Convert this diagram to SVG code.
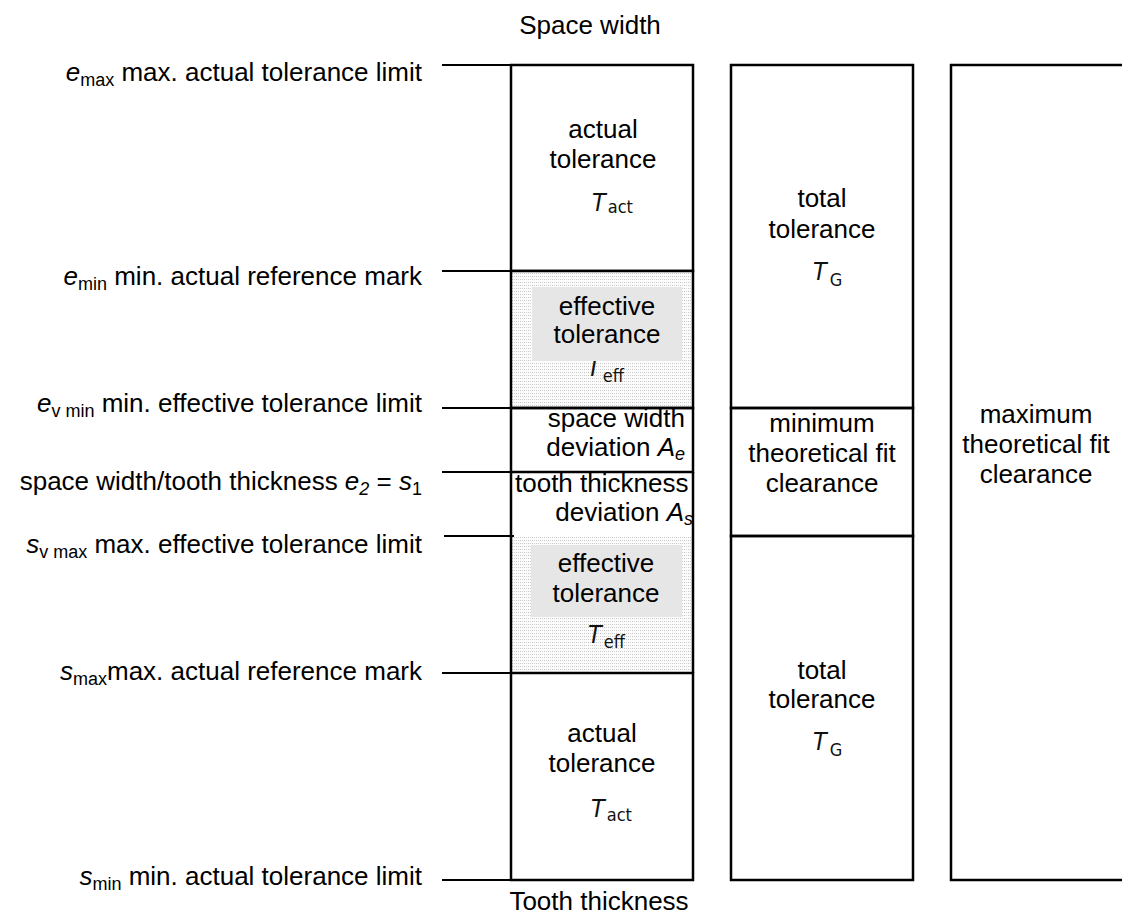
<svg xmlns="http://www.w3.org/2000/svg" width="1122" height="917" viewBox="0 0 1122 917">
<defs>
<pattern id="dots" width="4" height="3" patternUnits="userSpaceOnUse">
<rect width="4" height="3" fill="#fcfcfc"/>
<rect x="0" y="0" width="1" height="1" fill="#c4c4c4"/>
<rect x="2" y="0" width="1" height="1" fill="#d2d2d2"/>
</pattern>
<style>
text{font-family:"Liberation Sans",Arial,sans-serif;font-size:26px;fill:#000}
.c{text-anchor:middle}
.e{text-anchor:end}
.i{font-style:italic}
.sub{font-size:18px}
.sym{font-family:"Liberation Sans Narrow","DejaVu Sans Condensed","Liberation Sans",sans-serif;font-stretch:condensed;font-size:25px;fill:#111}
.symsub{font-size:18px;font-style:normal}
.box{fill:none;stroke:#000;stroke-width:2.5}
.div{stroke:#000;stroke-width:2.5}
.lead{stroke:#000;stroke-width:2}
.gray{fill:#e6e6e6}
</style>
</defs>
<rect width="1122" height="917" fill="#fff"/>

<text class="c" x="590" y="34">Space width</text>
<text class="c" x="599" y="910">Tooth thickness</text>

<g id="connectors">
<line class="lead" x1="442" y1="65" x2="511" y2="65"/>
<line class="lead" x1="442" y1="271" x2="511" y2="271"/>
<line class="lead" x1="442" y1="408" x2="511" y2="408"/>
<line class="lead" x1="442" y1="472" x2="511" y2="472" stroke="#444"/>
<line class="lead" x1="444" y1="536" x2="514" y2="536"/>
<line class="lead" x1="442" y1="673" x2="511" y2="673"/>
<line class="lead" x1="442" y1="880" x2="511" y2="880"/>
</g>

<g id="labels">
<text class="e" x="422" y="81"><tspan class="i">e</tspan><tspan class="sub" dy="5">max</tspan><tspan dy="-5"> max. actual tolerance limit</tspan></text>
<text class="e" x="422" y="285"><tspan class="i">e</tspan><tspan class="sub" dy="5">min</tspan><tspan dy="-5"> min. actual reference mark</tspan></text>
<text class="e" x="422" y="412"><tspan class="i">e</tspan><tspan class="sub" dy="5">v min</tspan><tspan dy="-5"> min. effective tolerance limit</tspan></text>
<text class="e" x="422" y="490">space width/tooth thickness <tspan class="i">e</tspan><tspan class="sub i" dy="5">2</tspan><tspan dy="-5"> = </tspan><tspan class="i">s</tspan><tspan class="sub" dy="5">1</tspan></text>
<text class="e" x="422" y="553"><tspan class="i">s</tspan><tspan class="sub" dy="5">v max</tspan><tspan dy="-5"> max. effective tolerance limit</tspan></text>
<text class="e" x="422" y="680"><tspan class="i">s</tspan><tspan class="sub" dy="5">max</tspan><tspan dy="-5">max. actual reference mark</tspan></text>
<text class="e" x="422" y="885"><tspan class="i">s</tspan><tspan class="sub" dy="5">min</tspan><tspan dy="-5"> min. actual tolerance limit</tspan></text>
</g>

<g id="col1-actual-top">
<rect class="box" x="511" y="65" width="182" height="206"/>
<text class="c" x="603" y="138">actual</text>
<text class="c" x="603" y="168">tolerance</text>
<text class="sym" x="592" y="211"><tspan class="i">T</tspan><tspan class="symsub" dx="2" dy="2">act</tspan></text>
</g>

<g id="col1-effective-top">
<rect x="511" y="271" width="182" height="137" fill="url(#dots)"/>
<text class="sym" x="587" y="376"><tspan class="i">T</tspan><tspan class="symsub" dx="2" dy="6">eff</tspan></text>
<rect class="gray" x="532" y="287" width="150" height="74"/>
<text class="c" x="607" y="315">effective</text>
<text class="c" x="607" y="343">tolerance</text>
<rect class="box" x="511" y="271" width="182" height="137"/>
</g>

<g id="col1-space-dev">
<rect class="box" x="511" y="408" width="182" height="64"/>
<text class="e" x="685" y="427">space width</text>
<text class="e" x="685" y="456">deviation <tspan class="i">A</tspan><tspan class="sub i" dy="4">e</tspan></text>
</g>

<g id="col1-tooth-dev">
<text x="515" y="492">tooth thickness</text>
<text class="e" x="693" y="521">deviation <tspan class="i">A</tspan><tspan class="sub i" dy="4">s</tspan></text>
</g>

<g id="col1-effective-bottom">
<rect x="511" y="537" width="182" height="136" fill="url(#dots)"/>
<rect class="gray" x="531" y="545" width="151" height="72"/>
<text class="c" x="606" y="572">effective</text>
<text class="c" x="606" y="602">tolerance</text>
<text class="sym" x="588" y="643"><tspan class="i">T</tspan><tspan class="symsub" dx="2" dy="5">eff</tspan></text>
</g>

<g id="col1-actual-bottom">
<rect class="box" x="511" y="673" width="182" height="207"/>
<text class="c" x="602" y="742">actual</text>
<text class="c" x="602" y="772">tolerance</text>
<text class="sym" x="591" y="817"><tspan class="i">T</tspan><tspan class="symsub" dx="2" dy="4">act</tspan></text>
</g>

<g id="col1-frame">
<line class="div" x1="511" y1="472" x2="511" y2="673"/>
<line class="div" x1="693" y1="472" x2="693" y2="673"/>
</g>

<g id="col2-total-top">
<rect class="box" x="731" y="65" width="182" height="343"/>
<text class="c" x="822" y="207">total</text>
<text class="c" x="822" y="238">tolerance</text>
<text class="sym" x="813" y="280"><tspan class="i">T</tspan><tspan class="symsub" dx="3" dy="6">G</tspan></text>
</g>

<g id="col2-min-fit">
<rect class="box" x="731" y="408" width="182" height="128"/>
<text class="c" x="822" y="432">minimum</text>
<text class="c" x="822" y="462">theoretical fit</text>
<text class="c" x="822" y="492">clearance</text>
</g>

<g id="col2-total-bottom">
<rect class="box" x="731" y="536" width="182" height="344"/>
<text class="c" x="822" y="679">total</text>
<text class="c" x="822" y="708">tolerance</text>
<text class="sym" x="813" y="750"><tspan class="i">T</tspan><tspan class="symsub" dx="3" dy="6">G</tspan></text>
</g>

<g id="col3-max-fit">
<rect class="box" x="951" y="65" width="175" height="815"/>
<text class="c" x="1036" y="423">maximum</text>
<text class="c" x="1036" y="453">theoretical fit</text>
<text class="c" x="1036" y="483">clearance</text>
</g>
</svg>
